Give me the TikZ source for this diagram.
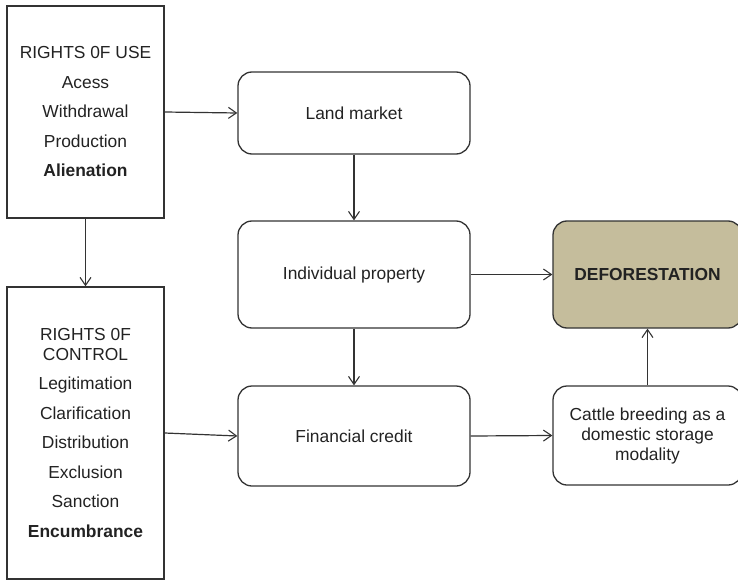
\documentclass[tikz,border=0pt]{standalone}
\usepackage{fontspec}
\setmainfont{Liberation Sans}
\usetikzlibrary{arrows.meta}
\definecolor{edge}{HTML}{333333}
\definecolor{ink}{HTML}{222222}
\definecolor{khaki}{HTML}{C5BD9C}
\begin{document}
\begin{tikzpicture}[x=1pt,y=-1pt,
  every node/.style={font=\fontsize{17.4}{20.5}\selectfont, text=ink, align=center, inner sep=0pt},
  rightsbox/.style={draw=edge, line width=1.4pt, rectangle, minimum width=157pt},
  stepbox/.style={draw=edge, line width=1.3pt, rounded corners=14pt},
  flow/.style={draw=edge, line width=1.2pt, -{Straight Barb[length=8pt,width=11pt,line width=1.1pt]}}
]
\useasboundingbox (0,0) rectangle (738,580);

% property rights bundles
\node[rightsbox, minimum height=212pt] (ru) at (85.5,112)
  {RIGHTS 0F USE\\[9pt]Acess\\[9pt]Withdrawal\\[9pt]Production\\[9pt]\textbf{Alienation}};
\node[rightsbox, minimum height=292pt] (rc) at (85.5,433)
  {RIGHTS 0F\\CONTROL\\[8.5pt]Legitimation\\[9pt]Clarification\\[9pt]Distribution\\[9pt]Exclusion\\[9pt]Sanction\\[9pt]\textbf{Encumbrance}};

% causal chain
\node[stepbox, minimum width=232pt, minimum height=82pt] (lm) at (354,113) {Land market};
\node[stepbox, minimum width=232pt, minimum height=107pt] (ip) at (354,274.5) {Individual property};
\node[stepbox, minimum width=232pt, minimum height=100pt] (fc) at (354,436) {Financial credit};
\node[stepbox, fill=khaki, minimum width=189pt, minimum height=107pt, font=\fontsize{17.4}{20.5}\selectfont\bfseries] (df) at (647.5,274.5) {DEFORESTATION};
\node[stepbox, minimum width=189pt, minimum height=99pt, font=\fontsize{17.4}{20}\selectfont] (cb) at (647.5,435.5)
  {Cattle breeding as a\\domestic storage\\modality};

% connectors
\draw[flow] (ru.east) -- (lm.west);
\draw[flow] (ru.south) -- (rc.north);
\draw[flow] (lm.south) -- (ip.north);
\draw[flow] (ip.south) -- (fc.north);
\draw[flow] (rc.east) -- (fc.west);
\draw[flow] (ip.east) -- (df.west);
\draw[flow] (fc.east) -- (cb.west);
\draw[flow] (cb.north) -- (df.south);
\end{tikzpicture}
\end{document}
